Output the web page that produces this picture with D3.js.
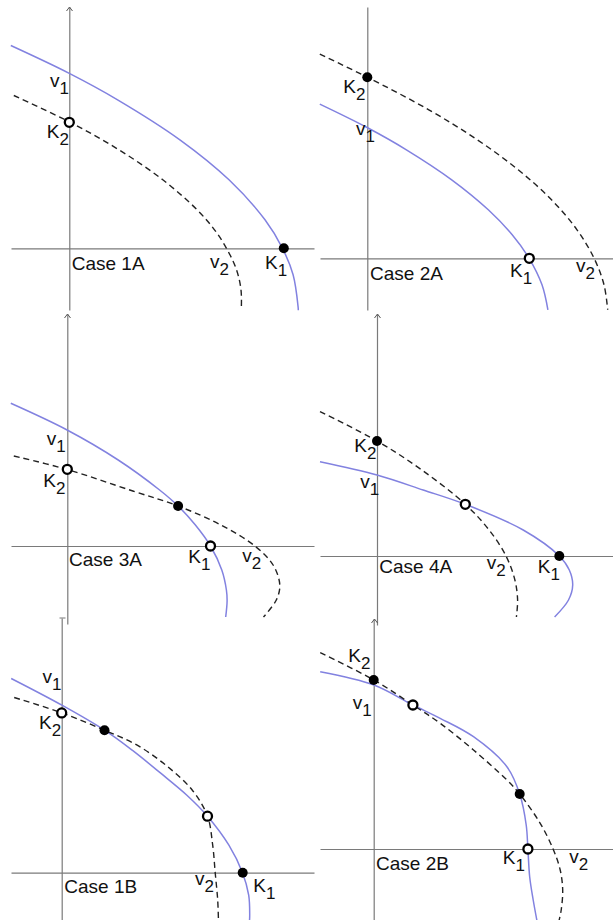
<!DOCTYPE html>
<html>
<head>
<meta charset="utf-8">
<script src="https://cdn.jsdelivr.net/npm/d3@7"></script>
<style>
  html, body { margin: 0; padding: 0; background: #fff; }
  svg { display: block; }
</style>
</head>
<body>
<svg id="fig" width="613" height="920"></svg>
<script>
// Nullclines of the two-species model, one panel per case.
// Coordinates are model units with the origin at the axes' crossing, y upward.
const caseNames = ["Case 1A", "Case 2A", "Case 3A", "Case 4A", "Case 1B", "Case 2B"];

// v1 nullclines (solid)
const v1Case1A = [[-5.85,20.28],[-0.05,17.52],[4.83,14.85],[11.06,10.85],[15.97,6.85],[19.57,2.85],[21.32,0],[22.38,-2.65],[22.88,-5.85],[22.9,-6.2]];
const v1Case2A = [[-4.75,15.42],[-0.02,13.08],[3.91,10.85],[8.44,7.85],[12.1,4.85],[14.49,2.35],[16.18,0],[17.47,-2.65],[18.06,-5.15]];
const v1Case3A = [[-5.65,14.27],[-0.02,11.6],[5.09,8.6],[9.23,5.6],[11.08,4.0],[12.81,2.1],[14.32,0],[15.45,-2.4],[15.91,-4.4],[15.98,-5.5],[15.84,-7.1]];
const v1Case4A = [[-5.7,9.43],[0,8.1],[4.62,6.6],[8.83,5.17],[14.62,2.6],[18.23,0],[19.23,-1.4],[19.57,-2.9],[19.15,-4.4],[17.76,-6.1]];
const v1Case1B = [[-5.05,19.42],[0.02,16.75],[4.28,14.25],[7.05,12.25],[9.9,9.95],[12.52,7.75],[14.58,5.65],[16.72,2.75],[18.08,0],[18.7,-2.25],[18.8,-4.25],[18.77,-4.95]];
const v1Case2B = [[-5.35,17.73],[0.02,16.4],[3.92,14.4],[6.65,13.07],[9.98,11.23],[13.32,8.23],[14.6,5.5],[15.25,2.4],[15.42,0],[15.6,-2.8],[15.95,-5.1],[16.35,-7.3]];

// v2 nullclines (dashed)
const v2Case1A = [[-5.55,15.28],[0.05,12.62],[4.96,9.85],[9.35,6.85],[12.78,3.85],[14.52,1.85],[15.72,0],[16.72,-2.15],[17.17,-4.15],[17.2,-6.15]];
const v2Case2A = [[-4.75,20.42],[-0.02,18.12],[6.15,14.85],[11.0,11.85],[15.09,8.85],[18.42,5.85],[20.97,2.85],[22.68,0],[23.67,-2.65],[24.04,-5.15]];
const v2Case3A = [[-5.35,9.0],[-0.08,7.67],[6.55,5.5],[11.08,4.0],[15.36,2.1],[18.75,0],[20.58,-1.9],[21.25,-3.9],[20.9,-5.4],[19.62,-7.1]];
const v2Case4A = [[-5.7,14.43],[0,11.5],[4.48,8.6],[8.83,5.17],[11.21,2.6],[12.9,0],[13.79,-2.4],[14.06,-4.4],[13.94,-6.1]];
const v2Case1B = [[-4.75,17.52],[0.02,15.98],[4.28,14.25],[7.55,12.75],[10.6,10.6],[13.1,8.2],[14.58,5.65],[15.1,2.75],[15.35,0],[15.6,-2.75],[15.68,-4.95]];
const v2Case2B = [[-5.35,19.63],[0.02,16.9],[3.92,14.4],[6.65,12.57],[9.98,9.9],[13.32,6.9],[14.6,5.5],[16.65,2.57],[17.98,-0.1],[18.65,-2.1],[18.9,-4.1],[18.75,-6.1],[18.5,-7.3]];

// Equilibria: stable ones drawn filled, unstable ones hollow
const eqCase1A = [{x:0, y:12.6, stable:false}, {x:21.45, y:0, stable:true}];
const eqCase2A = [{x:0, y:18.1, stable:true}, {x:16.2, y:0, stable:false}];
const eqCase3A = [{x:0, y:7.67, stable:false}, {x:11.08, y:4.0, stable:true}, {x:14.32, y:0, stable:false}];
const eqCase4A = [{x:0, y:11.5, stable:true}, {x:8.83, y:5.17, stable:false}, {x:18.23, y:0, stable:true}];
const eqCase1B = [{x:0, y:15.98, stable:false}, {x:4.28, y:14.25, stable:true}, {x:14.58, y:5.65, stable:false}, {x:18.1, y:0, stable:true}];
const eqCase2B = [{x:0, y:16.9, stable:true}, {x:3.92, y:14.4, stable:false}, {x:14.6, y:5.5, stable:true}, {x:15.42, y:0, stable:false}];

// Curve / point label texts
const labelNames = [["K","1"],["K","2"],["v","1"],["v","2"]];

// Panel frames in page pixels, plus label offsets from the origin
const frames = [
  {ox:69.3, oy:248.3, x0:11, x1:314, y0:7, y1:310, cap:"arrow",
   lab:{K1:[195.7,21], K2:[-22.6,-110], v1:[-19.3,-161], v2:[140.7,20], case:[2.4,22]}},
  {ox:367.3, oy:258.3, x0:320, x1:613, y0:7, y1:310, cap:"none",
   lab:{K1:[142.7,18.4], K2:[-24,-165], v1:[-11.3,-123.3], v2:[208.7,13.4], case:[2.7,21.7]}},
  {ox:67.3, oy:546, x0:11, x1:314, y0:314, y1:624, cap:"arrow",
   lab:{K1:[121,16.7], K2:[-24,-58.7], v1:[-20.6,-101], v2:[175,15.7], case:[1.7,19.5]}},
  {ox:377, oy:556, x0:320, x1:613, y0:314, y1:625, cap:"arrow",
   lab:{K1:[160.7,16.7], K2:[-22.7,-104.3], v1:[-16.7,-67.7], v2:[109.7,13.3], case:[2.3,17.3]}},
  {ox:61.7, oy:872.7, x0:11, x1:314, y0:618, y1:920, cap:"bar",
   lab:{K1:[191.6,19], K2:[-22.7,-143.3], v1:[-19.3,-189.3], v2:[133.3,12.3], case:[2.6,20.6]}},
  {ox:373.7, oy:849, x0:320, x1:613, y0:619, y1:920, cap:"arrow",
   lab:{K1:[129,15.3], K2:[-25.4,-186.7], v1:[-21,-139.7], v2:[195.6,14.3], case:[2.3,21]}}
];

const v1Curves = [v1Case1A, v1Case2A, v1Case3A, v1Case4A, v1Case1B, v1Case2B];
const v2Curves = [v2Case1A, v2Case2A, v2Case3A, v2Case4A, v2Case1B, v2Case2B];
const equilibria = [eqCase1A, eqCase2A, eqCase3A, eqCase4A, eqCase1B, eqCase2B];

const PX_PER_UNIT = 10;
const AXIS_COLOR = "#7a7a7a";
const V1_COLOR = "#8282e0";
const FONT = "'Liberation Sans', Arial, sans-serif";

const svg = d3.select("#fig");

frames.forEach((f, i) => {
  const g = svg.append("g").attr("class", "panel");

  const x = d3.scaleLinear()
    .domain([(f.x0 - f.ox) / PX_PER_UNIT, (f.x1 - f.ox) / PX_PER_UNIT])
    .range([f.x0, f.x1]);
  const y = d3.scaleLinear()
    .domain([(f.oy - f.y1) / PX_PER_UNIT, (f.oy - f.y0) / PX_PER_UNIT])
    .range([f.y1, f.y0]);

  // Axes: bare lines through the origin
  const xAxis = d3.axisBottom(x).tickValues([]).tickSizeOuter(0);
  const yAxis = d3.axisLeft(y).tickValues([]).tickSizeOuter(0);
  g.append("g").attr("transform", `translate(0,${y(0)})`).call(xAxis)
    .attr("color", AXIS_COLOR).select(".domain").attr("stroke-width", 1.2);
  g.append("g").attr("transform", `translate(${x(0)},0)`).call(yAxis)
    .attr("color", AXIS_COLOR).select(".domain").attr("stroke-width", 1.2);

  // Cap at the top of the vertical axis
  const ax = Math.round(x(0)) + 0.5, ay = f.y0;
  if (f.cap === "arrow") {
    g.append("path")
      .attr("d", `M${ax - 3},${ay + 4} L${ax},${ay} L${ax + 3},${ay + 4}`)
      .attr("fill", "none").attr("stroke", "#555").attr("stroke-width", 1);
  } else if (f.cap === "bar") {
    g.append("path")
      .attr("d", `M${ax - 3},${ay} L${ax + 3},${ay}`)
      .attr("fill", "none").attr("stroke", "#777").attr("stroke-width", 1);
  }

  const line = d3.line()
    .x(d => x(d[0])).y(d => y(d[1]))
    .curve(d3.curveCatmullRom.alpha(0.5));

  g.append("path").datum(v1Curves[i])
    .attr("d", line).attr("fill", "none")
    .attr("stroke", V1_COLOR).attr("stroke-width", 1.5);

  g.append("path").datum(v2Curves[i])
    .attr("d", line).attr("fill", "none")
    .attr("stroke", "#222").attr("stroke-width", 1.4)
    .attr("stroke-dasharray", "6,4");

  g.selectAll("circle.eq").data(equilibria[i]).join("circle")
    .attr("class", "eq")
    .attr("cx", d => x(d.x)).attr("cy", d => y(d.y))
    .attr("r", d => d.stable ? 5 : 4.5)
    .attr("fill", d => d.stable ? "#000" : "#fff")
    .attr("stroke", "#000")
    .attr("stroke-width", d => d.stable ? 0 : 2.3);

  // Labels
  const texts = g.append("g").attr("font-family", FONT).attr("fill", "#111");
  labelNames.forEach(([base, sub]) => {
    const off = f.lab[base + sub];
    const t = texts.append("text")
      .attr("x", f.ox + off[0]).attr("y", f.oy + off[1])
      .attr("font-size", 19);
    t.append("tspan").text(base);
    t.append("tspan").attr("dy", 7).attr("font-size", 17).text(sub);
  });
  texts.append("text")
    .attr("x", f.ox + f.lab.case[0]).attr("y", f.oy + f.lab.case[1])
    .attr("font-size", 19).text(caseNames[i]);
});
</script>
</body>
</html>
